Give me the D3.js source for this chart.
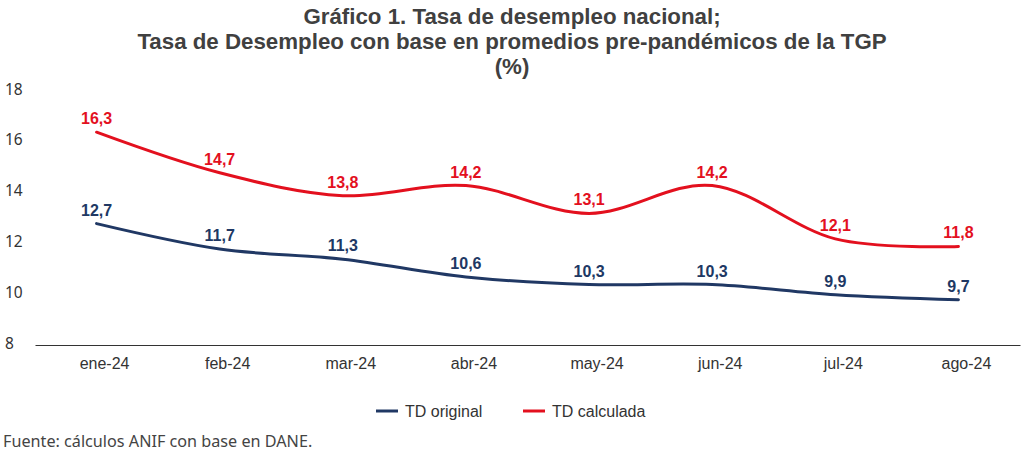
<!DOCTYPE html>
<html><head><meta charset="utf-8">
<script src="https://cdn.jsdelivr.net/npm/d3@7/dist/d3.min.js"></script>
<style>body{margin:0;background:#fff}svg{display:block}</style>
</head><body><svg id="c" width="1024" height="451"></svg>
<script>
const categories = ["ene-24","feb-24","mar-24","abr-24","may-24","jun-24","jul-24","ago-24"];
const tdOriginal = [12.7,11.7,11.3,10.6,10.3,10.3,9.9,9.7];
const tdCalculada = [16.3,14.7,13.8,14.2,13.1,14.2,12.1,11.8];
const yTicks = [8,10,12,14,16,18];
const titleLines = ["Gráfico 1. Tasa de desempleo nacional;","Tasa de Desempleo con base en promedios pre-pandémicos de la TGP","(%)"];
const seriesNames = ["TD original","TD calculada"];
const colors = ["#203864","#E3101E"];

const svg = d3.select("#c");
const x = d3.scaleBand().domain(categories).range([35,1020]);
const y = d3.scaleLinear().domain([8,18]).range([343,89]);

// title
svg.append("g").selectAll("text").data(titleLines).join("text")
  .attr("x",512).attr("y",(d,i)=>24+i*25).attr("text-anchor","middle")
  .attr("font-family","Liberation Sans, Arial, sans-serif").attr("font-weight","bold")
  .attr("font-size",22.3).attr("fill","#404040").text(d=>d);

// y tick labels
svg.append("g").selectAll("text").data(yTicks).join("text")
  .attr("x",5).attr("y",d=>y(d)+5.5).attr("font-family","Noto Sans, sans-serif")
  .attr("font-size",15.5).attr("fill","#333").text(d=>d);

// x axis
const xa = svg.append("g").attr("transform","translate(0,345)")
  .call(d3.axisBottom(x).tickSize(0).tickPadding(13));
xa.select(".domain").attr("stroke","#333").attr("stroke-width",1.2);
xa.selectAll("text").attr("font-family","Liberation Sans, Arial, sans-serif")
  .attr("font-size",16).attr("fill","#333").attr("dx",8);

const cx = d => x(d)+x.bandwidth()/2;
const line = d3.line().x((d,i)=>cx(categories[i])).y(d=>y(d)).curve(d3.curveCardinal.tension(0));

[tdOriginal, tdCalculada].forEach((s,k)=>{
  svg.append("path").datum(s).attr("d",line).attr("fill","none")
    .attr("stroke",colors[k]).attr("stroke-width",3).attr("stroke-linecap","round");
  svg.append("g").selectAll("text").data(s).join("text")
    .attr("x",(d,i)=>cx(categories[i])).attr("y",d=>y(d)-8)
    .attr("text-anchor","middle").attr("font-family","Liberation Sans, Arial, sans-serif")
    .attr("font-weight","bold").attr("font-size",16).attr("fill",colors[k])
    .text(d=>d.toFixed(1).replace(".",","));
});

// legend
const legX = [376,523];
seriesNames.forEach((n,k)=>{
  svg.append("line").attr("x1",legX[k]).attr("x2",legX[k]+22).attr("y1",411).attr("y2",411)
    .attr("stroke",colors[k]).attr("stroke-width",3);
  svg.append("text").attr("x",legX[k]+29).attr("y",416.5)
    .attr("font-family","Liberation Sans, Arial, sans-serif").attr("font-size",16)
    .attr("fill","#333").text(n);
});

// source
svg.append("text").attr("x",3).attr("y",447).attr("font-family","Noto Sans, sans-serif")
  .attr("font-size",16.2).attr("fill","#444").text("Fuente: cálculos ANIF con base en DANE.");
</script></body></html>
